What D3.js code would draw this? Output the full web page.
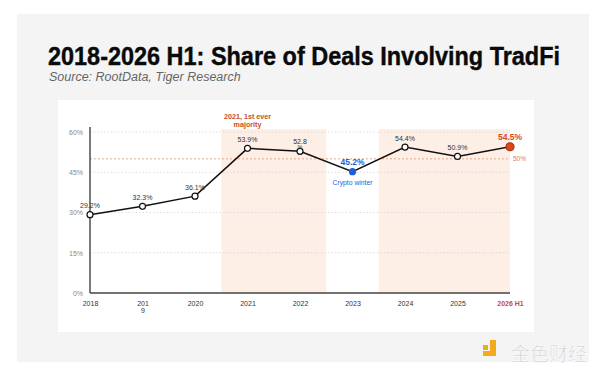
<!DOCTYPE html>
<html>
<head>
<meta charset="utf-8">
<script src="https://cdn.jsdelivr.net/npm/d3@7"></script>
<style>
  body { margin: 0; background: #fff; }
  svg { display: block; }
</style>
</head>
<body>
<div id="chart"></div>
<script>
// data
const years = ["2018", "2019", "2020", "2021", "2022", "2023", "2024", "2025", "2026 H1"];
const shares = [29.2, 32.3, 36.1, 53.9, 52.8, 45.2, 54.4, 50.9, 54.5];
const valueLabels = ["29.2%", "32.3%", "36.1%", "53.9%", "52.8\n%", "45.2%", "54.4%", "50.9%", "54.5%"];
const yTicks = [0, 15, 30, 45, 60];
const bands = [["2021", "2022"], ["2024", "2026 H1"]];
const threshold = 50;

const W = 600, H = 372;
const orange = "#c8501f";
const blue = "#1f5fd6";

const svg = d3.select("#chart").append("svg")
    .attr("width", W)
    .attr("height", H);

// gray panel + white card
svg.append("rect").attr("x", 17).attr("y", 14).attr("width", 572).attr("height", 348).attr("fill", "#f4f4f4");
svg.append("rect").attr("x", 58).attr("y", 100).attr("width", 476).attr("height", 232).attr("fill", "#fff");

// title
svg.append("text")
    .attr("x", 48).attr("y", 65)
    .attr("font-family", "Liberation Sans, Arial, sans-serif")
    .attr("font-weight", "bold")
    .attr("font-size", 25)
    .attr("textLength", 512)
    .attr("lengthAdjust", "spacingAndGlyphs")
    .attr("fill", "#0a0a0a")
    .attr("stroke", "#0a0a0a")
    .attr("stroke-width", 0.4)
    .text("2018-2026 H1: Share of Deals Involving TradFi");

svg.append("text")
    .attr("x", 49).attr("y", 81)
    .attr("font-family", "Liberation Sans, Arial, sans-serif")
    .attr("font-style", "italic")
    .attr("font-size", 12.5)
    .attr("fill", "#666")
    .text("Source: RootData, Tiger Research");

// scales
const x = d3.scalePoint().domain(years).range([90, 510]);
const y = d3.scaleLinear().domain([0, 60]).range([293, 132]);
const step = x.step();

const g = svg.append("g").attr("font-family", "Liberation Sans, Arial, sans-serif");

// shaded bands
bands.forEach(b => {
    const x0 = x(b[0]) - step / 2;
    const x1 = b[1] === years[years.length - 1] ? x(b[1]) : x(b[1]) + step / 2;
    g.append("rect")
        .attr("x", x0).attr("y", 129)
        .attr("width", x1 - x0).attr("height", y(0) - 129)
        .attr("fill", "#fdeee6");
});

// gridlines
g.selectAll(".grid").data(yTicks.filter(d => d > 0)).enter()
    .append("line")
    .attr("x1", 90).attr("x2", 510)
    .attr("y1", d => y(d)).attr("y2", d => y(d))
    .attr("stroke", "#d6d6d6")
    .attr("stroke-width", 0.8)
    .attr("stroke-dasharray", "1.5,2");

// threshold line
g.append("line")
    .attr("x1", 90).attr("x2", 510)
    .attr("y1", y(threshold)).attr("y2", y(threshold))
    .attr("stroke", "#e2a27f")
    .attr("stroke-width", 0.9)
    .attr("stroke-dasharray", "2,2");
g.append("text")
    .attr("x", 513).attr("y", y(threshold) + 2)
    .attr("font-size", 6.5).attr("fill", "#d98050")
    .text(threshold + "%");

// y axis
const yAxis = g.append("g")
    .attr("transform", "translate(90,0)")
    .call(d3.axisLeft(y).tickValues(yTicks).tickFormat(d => d + "%").tickSize(0).tickPadding(7));
yAxis.select(".domain").attr("stroke", "#333").attr("stroke-width", 1.3).attr("d", "M0," + (y(60) - 5) + "V" + y(0));
yAxis.selectAll("text").attr("font-size", 7).attr("fill", "#888").attr("font-family", "Liberation Sans, Arial, sans-serif");

// x axis
const xAxis = g.append("g")
    .attr("transform", "translate(0," + y(0) + ")")
    .call(d3.axisBottom(x).tickSize(0).tickPadding(8));
xAxis.select(".domain").attr("stroke", "#444").attr("stroke-width", 1.5).attr("d", "M90,0H510");
xAxis.selectAll("text")
    .attr("font-size", 7)
    .attr("fill", d => d === "2026 H1" ? orange : "#333")
    .attr("font-weight", d => d === "2026 H1" ? "bold" : "normal")
    .attr("font-family", "Liberation Sans, Arial, sans-serif")
    .each(function(d) {
        if (d === "2019") {
            const t = d3.select(this).text(null);
            t.append("tspan").attr("x", 0).text("201");
            t.append("tspan").attr("x", 0).attr("dy", "1em").text("9");
        }
    });

// line
const line = d3.line().x((d, i) => x(years[i])).y(d => y(d));
g.append("path")
    .datum(shares)
    .attr("d", line)
    .attr("fill", "none")
    .attr("stroke", "#111")
    .attr("stroke-width", 1.5);

// points
const last = years.length - 1;
const low = shares.indexOf(d3.min(shares.slice(3)));
g.selectAll(".pt").data(shares).enter()
    .append("circle")
    .attr("cx", (d, i) => x(years[i]))
    .attr("cy", d => y(d))
    .attr("r", (d, i) => i === last ? 4 : 3)
    .attr("fill", (d, i) => i === last ? "#d9481f" : i === low ? blue : "#fff")
    .attr("stroke", (d, i) => i === last ? "#a83410" : i === low ? blue : "#111")
    .attr("stroke-width", 1.2);

// value labels
shares.forEach((v, i) => {
    const special = i === last || i === low;
    const t = g.append("text")
        .attr("x", x(years[i]))
        .attr("y", y(v) - (special ? 7 : 6.5))
        .attr("text-anchor", "middle")
        .attr("font-size", special ? 8.5 : 7)
        .attr("font-weight", special ? "bold" : "normal")
        .attr("fill", i === last ? "#d9481f" : i === low ? blue : "#333");
    const parts = valueLabels[i].split("\n");
    if (parts.length > 1) {
        t.attr("y", y(v) - 7);
        t.append("tspan").attr("x", x(years[i])).text(parts[0]);
        t.append("tspan").attr("x", x(years[i])).attr("dy", 4.5).attr("font-size", 5.5).text(parts[1]);
    } else {
        t.text(parts[0]);
    }
});

// annotations
g.append("text")
    .attr("x", x("2023")).attr("y", y(shares[low]) + 13)
    .attr("text-anchor", "middle").attr("font-size", 6.8).attr("fill", blue)
    .text("Crypto winter");

const ann = g.append("text")
    .attr("x", x("2021")).attr("y", 119)
    .attr("text-anchor", "middle").attr("font-size", 7.2).attr("font-weight", "bold").attr("fill", orange);
ann.append("tspan").attr("x", x("2021")).text("2021, 1st ever");
ann.append("tspan").attr("x", x("2021")).attr("dy", 7.5).text("majority");

// watermark
const wm = svg.append("g");
wm.append("path")
    .attr("d", "M483,345h5v5h-5z M490,340h6v16h-13v-5h7z")
    .attr("fill", "#f2ac1a");
wm.append("text")
    .attr("x", 511).attr("y", 361)
    .attr("font-family", "Noto Sans CJK SC, sans-serif")
    .attr("font-size", 19)
    .attr("fill", "#cfcfcf")
    .attr("stroke", "#fff")
    .attr("stroke-width", 0.5)
    .text("金色财经");
</script>
</body>
</html>
